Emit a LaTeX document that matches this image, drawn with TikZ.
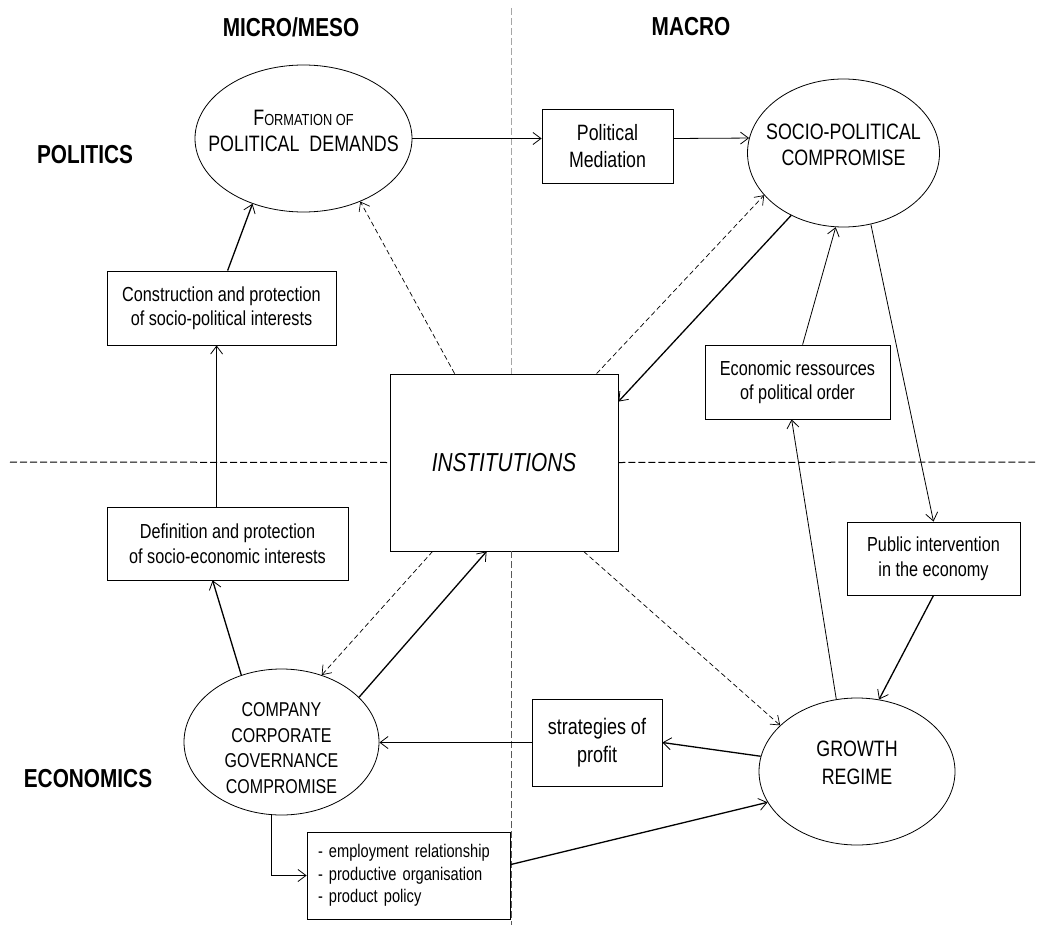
\documentclass[tikz,border=0pt]{standalone}
\usepackage{fontspec}
\setmainfont{Liberation Sans}[FakeStretch=0.8]
\usetikzlibrary{shapes.geometric,arrows.meta,calc}
\begin{document}
\begin{tikzpicture}[x=1pt,y=-1pt,
  box/.style={draw, line width=0.8pt, rectangle, inner sep=0pt, align=center, font=\fontsize{20.3}{24.5}\selectfont},
  ell/.style={draw, line width=0.8pt, ellipse, inner sep=0pt},
  etext/.style={align=center, inner sep=0pt, font=\fontsize{22.3}{26}\selectfont},
  head/.style={font=\bfseries\fontsize{26}{30}\selectfont, inner sep=0pt},
  conn/.style={line width=0.8pt, -{Straight Barb[length=8pt,width=12pt]}},
  bconn/.style={line width=1.3pt, -{Straight Barb[length=8pt,width=12pt,line width=0.8pt]}},
  dconn/.style={line width=0.7pt, dash pattern=on 5pt off 3pt, -{Straight Barb[length=8pt,width=12pt,line width=0.7pt]}},
  divider/.style={line width=1pt, dash pattern=on 7pt off 3pt}
]
\useasboundingbox (0,0) rectangle (1040,928);

% headings
\node[head] (micro) at (291,27) {MICRO/MESO};
\node[head] (macro) at (691,27) {MACRO};
\node[head] (pol) at (85,155) {POLITICS};
\node[head] (eco) at (88,779) {ECONOMICS};

% ellipses
\node[ell, minimum width=217pt, minimum height=147pt] (formation) at (303.5,138.5) {};
\node[etext] (formation-t) at ($(formation.center)+(0,-8)$) {{\fontsize{22.3}{26}\selectfont F}{\fontsize{16}{26}\selectfont ORMATION OF}\\POLITICAL\hspace{5pt} DEMANDS};
\node[ell, minimum width=192pt, minimum height=148pt] (socio) at (843.5,153) {};
\node[etext] (socio-t) at ($(socio.center)+(0,-8)$) {SOCIO-POLITICAL\\COMPROMISE};
\node[ell, minimum width=195pt, minimum height=146pt] (company) at (281.5,742) {};
\node[etext, font=\fontsize{20}{25.5}\selectfont] (company-t) at ($(company.center)+(0,6)$) {COMPANY\\CORPORATE\\GOVERNANCE\\COMPROMISE};
\node[ell, minimum width=196pt, minimum height=147pt] (growth) at (857,771.5) {};
\node[etext, font=\fontsize{22.3}{28}\selectfont] (growth-t) at ($(growth.center)+(0,-9)$) {GROWTH\\REGIME};

% boxes
\node[box, minimum width=131pt, minimum height=74pt, font=\fontsize{22.2}{26.5}\selectfont] (polmed) at (607.5,146) {Political\\Mediation};
\node[box, minimum width=229pt, minimum height=74pt] (constr) at (221.5,308) {Construction and protection\\of socio-political interests};
\node[box, minimum width=241pt, minimum height=73pt] (defin) at (227.5,543.5) {Definition and protection\\of socio-economic interests};
\node[box, minimum width=228pt, minimum height=177pt, font=\itshape\fontsize{26}{30}\selectfont] (inst) at (504,462.5) {INSTITUTIONS};
\node[box, minimum width=185pt, minimum height=74pt] (econres) at (797.5,382) {Economic ressources\\of political order};
\node[box, minimum width=173pt, minimum height=73pt] (public) at (933.5,558.5) {Public intervention\\in the economy};
\node[box, minimum width=130pt, minimum height=87pt, font=\fontsize{22.5}{28}\selectfont] (strat) at (597,742.5) {strategies of\\profit};
\node[box, minimum width=203pt, minimum height=87pt, text width=181pt, align=left, font=\fontsize{18.3}{22.5}\selectfont] (employ) at (408.5,875.5) {- employment relationship\\- productive organisation\\- product policy};

% dividers
\draw[divider] (10,462) -- (inst.west);
\draw[divider] (inst.east) -- (1035,462);
\draw[divider, black!35] (511,8) -- (511,374);
\draw[divider, black!65] (511,551) -- (511,925);

% connectors
\draw[conn] (formation.east) -- (formation.east -| polmed.west);
\draw[conn] (formation.east -| polmed.east) -- (socio.171.6);
\draw[bconn] ($(constr.north west)+(121,0)$) -- (formation.232);
\draw[conn] ($(defin.north west)+(110,0)$) -- ($(constr.south west)+(110,0)$);
\draw[bconn] (company.121) -- ($(defin.south west)+(106,0)$);
\draw[dconn] ($(inst.north west)+(65,0)$) -- (formation.312);
\draw[dconn] ($(inst.north west)+(207,0)$) -- (socio.208);
\draw[bconn] (socio.230) -- ($(inst.north east)+(0,28)$);
\draw[dconn] ($(inst.south west)+(43,0)$) -- (company.59);
\draw[bconn] (company.30) -- ($(inst.south west)+(97,0)$);
\draw[dconn] ($(inst.south west)+(194,0)$) -- (growth.149.3);
\draw[conn] ($(econres.north west)+(98,0)$) -- (socio.264);
\draw[conn] (growth.106.7) -- ($(econres.south west)+(87,0)$);
\draw[conn] (socio.291) -- (public.north);
\draw[bconn] (public.south) -- (growth.73.3);
\draw[bconn] (growth.171.5) -- (strat.east);
\draw[conn] (strat.west) -- (strat.west -| company.east);
\draw[conn] (company.262) |- (employ.west);
\draw[bconn] ($(employ.north east)+(0,33)$) -- (growth.199);
\end{tikzpicture}
\end{document}
